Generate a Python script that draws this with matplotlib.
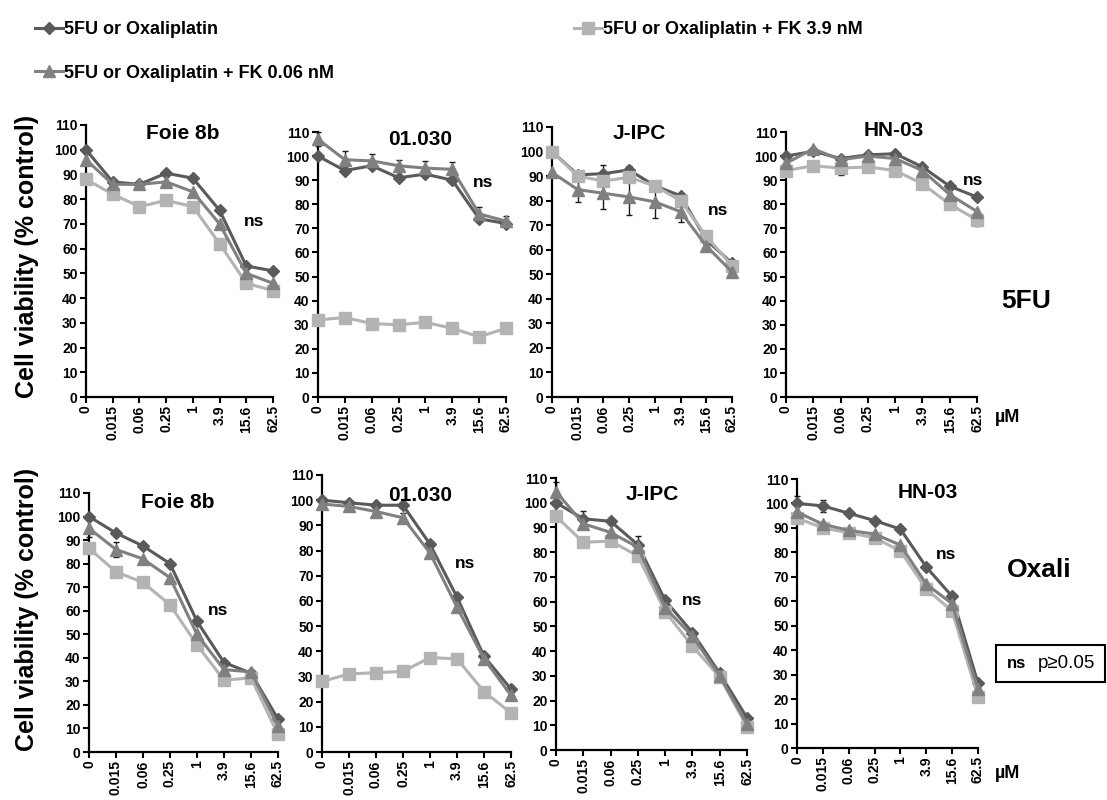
import matplotlib
matplotlib.use("Agg")
import matplotlib.pyplot as plt

plt.rcParams['font.family'] = ['Liberation Sans', 'DejaVu Sans']
plt.rcParams['font.weight'] = 'bold'

W, H = 1107, 800

doses = ['0', '0.015', '0.06', '0.25', '1', '3.9', '15.6', '62.5']
series_names = ['5FU or Oxaliplatin', '5FU or Oxaliplatin + FK 0.06 nM',
                '5FU or Oxaliplatin + FK 3.9 nM']
cell_lines = ['Foie 8b', '01.030', 'J-IPC', 'HN-03']

# 5FU row (diamond = drug alone, tri = + FK 0.06 nM, sq = + FK 3.9 nM)
fu_foie_d = [100, 87, 86, 90.5, 88.5, 75.5, 53, 51]
fu_foie_t = [96, 86, 86, 87, 83, 70, 50, 46]
fu_foie_s = [88, 82, 77, 79.5, 77, 62, 46, 43]
fu_0130_d = [100, 94, 96, 91, 92.5, 90, 74, 72]
fu_0130_t = [107, 98.5, 98, 96, 95, 94.5, 76, 73]
fu_0130_s = [32, 33, 30.5, 30, 31, 28.5, 25, 28.5]
fu_jipc_d = [100, 90.5, 91, 92.5, 86, 82, 64, 54.5]
fu_jipc_t = [91.5, 84.5, 83, 81.5, 79.5, 75.5, 61.5, 51]
fu_jipc_s = [100, 90, 88, 89.5, 86, 80, 65.5, 53.5]
fu_hn_d = [100, 102, 99, 100.5, 101, 95.5, 87.5, 83]
fu_hn_t = [97, 103, 98.5, 100, 99, 94, 84, 77]
fu_hn_s = [94, 96, 95, 95.5, 94, 88.5, 80, 73.5]

# Oxaliplatin row
ox_foie_d = [100, 93, 87.5, 80, 55.5, 38, 33.5, 14]
ox_foie_t = [95, 86, 82, 74, 50, 35, 34, 11]
ox_foie_s = [86.5, 76.5, 72, 62.5, 45.5, 30.5, 31.5, 7.5]
ox_0130_d = [100, 99, 98, 98, 82.5, 61.5, 38, 25]
ox_0130_t = [98.5, 97.5, 95.5, 93, 79, 57.5, 37, 22.5]
ox_0130_s = [28, 31, 31.5, 32, 37.5, 37, 24, 15.5]
ox_jipc_d = [100, 93.5, 92.5, 83, 60.5, 47.5, 31, 13]
ox_jipc_t = [104.5, 91.5, 88, 82, 57.5, 46, 30, 10.5]
ox_jipc_s = [94.5, 84, 84.5, 78.5, 56, 42, 29.5, 9.5]
ox_hn_d = [100, 99, 96, 93, 89.5, 74, 62, 26.5]
ox_hn_t = [96.5, 91.5, 89, 87.5, 83, 67, 59, 24]
ox_hn_s = [94, 90, 88, 86, 80.5, 65, 56, 21]

# error bars (SD), 0 = not visible
no_err = [0] * 8
fu_0130_t_err = [3, 3.5, 3, 2.5, 3, 3, 3, 2]
fu_jipc_t_err = [0, 5, 6.5, 7.5, 6.5, 4, 0, 0]
fu_jipc_d_err = [0, 0, 3.5, 1.5, 0, 0, 0, 0]
fu_hn_s_err = [0, 0, 3, 0, 0, 0, 2, 2.5]
ox_foie_t_err = [3.5, 3, 0, 0, 0, 0, 0, 0]
ox_0130_t_err = [2, 0, 0, 2, 0, 0, 0, 0]
ox_jipc_d_err = [0, 3, 0, 3.5, 0, 0, 0, 0]
ox_jipc_t_err = [4, 0, 0, 0, 0, 0, 0, 0]
ox_hn_d_err = [3, 2.5, 0, 0, 0, 0, 0, 0]

colors = ['#5a5a5a', '#808080', '#b3b3b3']
markers = ['D', '^', 's']
msizes = [6, 8, 8]
zorders = [3, 5, 4]

# (data d/t/s, errors d/t/s, pixel box x0,x1,ytop,ybot, title xy, ns xy)
panels = [
    ((fu_foie_d, fu_foie_t, fu_foie_s), (no_err, no_err, no_err),
     (86, 273, 125, 397), (3.64, 106.6), (6.3, 71)),
    ((fu_0130_d, fu_0130_t, fu_0130_s), (no_err, fu_0130_t_err, no_err),
     (318, 506, 132, 397), (3.82, 106.8), (6.16, 89)),
    ((fu_jipc_d, fu_jipc_t, fu_jipc_s), (fu_jipc_d_err, fu_jipc_t_err, no_err),
     (552, 732, 127, 397), (3.38, 107.3), (6.46, 76)),
    ((fu_hn_d, fu_hn_t, fu_hn_s), (no_err, no_err, fu_hn_s_err),
     (786, 977, 132, 397), (3.94, 110.7), (6.85, 90)),
    ((ox_foie_d, ox_foie_t, ox_foie_s), (no_err, ox_foie_t_err, no_err),
     (89, 278, 493, 752), (3.3, 105.8), (4.78, 60)),
    ((ox_0130_d, ox_0130_t, ox_0130_s), (no_err, ox_0130_t_err, no_err),
     (322, 511, 475, 752), (3.64, 102), (5.31, 74.7)),
    ((ox_jipc_d, ox_jipc_t, ox_jipc_s), (ox_jipc_d_err, ox_jipc_t_err, no_err),
     (556, 747, 478, 750), (3.54, 103.3), (4.98, 60.5)),
    ((ox_hn_d, ox_hn_t, ox_hn_s), (ox_hn_d_err, no_err, no_err),
     (797, 978, 479, 748), (5.07, 104.3), (5.78, 79)),
]

fig = plt.figure(figsize=(W / 100, H / 100), dpi=100)
fig.patch.set_facecolor('white')

handles = []
x = list(range(len(doses)))
for i, (data, errs, box, title_xy, ns_xy) in enumerate(panels):
    x0, x1, ytop, ybot = box
    ax = fig.add_axes([x0 / W, 1 - ybot / H, (x1 - x0) / W, (ybot - ytop) / H])
    for k in range(3):
        if any(errs[k]):
            ax.errorbar(x, data[k], yerr=errs[k], fmt='none', ecolor='#1a1a1a',
                        elinewidth=1, capsize=2.5, capthick=1, zorder=2,
                        clip_on=False)
        ln, = ax.plot(x, data[k], color=colors[k], marker=markers[k],
                      markersize=msizes[k], linewidth=2.2, clip_on=False,
                      zorder=zorders[k], label=series_names[k])
        if i == 0:
            handles.append(ln)
    ax.set_xlim(0, 7)
    ax.set_ylim(0, 110)
    ax.set_yticks(range(0, 111, 10))
    ax.set_xticks(x)
    ax.set_xticklabels(doses, rotation=90, fontsize=10, fontweight='bold')
    ax.tick_params(axis='y', labelsize=10, direction='out', length=4, width=1.5, pad=2)
    ax.tick_params(axis='x', direction='out', length=4, width=1.5, pad=2)
    for lab in ax.get_yticklabels():
        lab.set_fontweight('bold')
    for s in ['top', 'right']:
        ax.spines[s].set_visible(False)
    for s in ['left', 'bottom']:
        ax.spines[s].set_linewidth(1.6)
    ax.text(title_xy[0], title_xy[1], cell_lines[i % 4], ha='center', va='center',
            fontsize=15, fontweight='bold', clip_on=False)
    ax.text(ns_xy[0], ns_xy[1], 'ns', ha='center', va='center', fontsize=12.5,
            fontweight='bold', clip_on=False)

# y labels
for yc in [256, 609]:
    fig.text(27 / W, 1 - yc / H, 'Cell viability (% control)', rotation=90,
             ha='center', va='center', fontsize=18, fontweight='bold')

fig.text(1026 / W, 1 - 301 / H, '5FU', ha='center', va='center', fontsize=19,
         fontweight='bold')
fig.text(1039 / W, 1 - 570 / H, 'Oxali', ha='center', va='center', fontsize=19,
         fontweight='bold')
for yc in [418, 773]:
    fig.text(1008 / W, 1 - yc / H, 'µM', ha='center', va='center', fontsize=13,
             fontweight='bold')

# ns legend box
fig.patches.append(plt.Rectangle((996 / W, 1 - 682 / H), 109 / W, 37 / H,
                                 transform=fig.transFigure, fill=False,
                                 edgecolor='black', linewidth=1.5))
fig.text(1016 / W, 1 - 664 / H, 'ns', ha='center', va='center', fontsize=12,
         fontweight='bold')
fig.text(1066 / W, 1 - 664 / H, 'p≥0.05', ha='center', va='center', fontsize=13.5,
         fontweight='normal')

fig.legend(handles=handles, loc='upper left', bbox_to_anchor=(35 / W, 1 - 21 / H),
           ncol=2, frameon=False, handlelength=1.55, handletextpad=0.05,
           columnspacing=13.3, labelspacing=1.47, borderpad=0, borderaxespad=0,
           prop={'weight': 'bold', 'size': 13})

fig.savefig('out.png', dpi=100, facecolor='white')
